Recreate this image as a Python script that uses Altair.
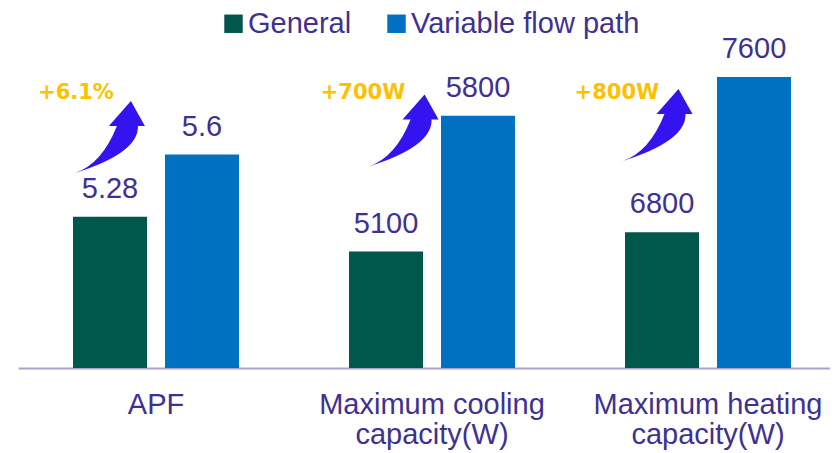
import altair as alt
import pandas as pd

# ---- data ----
categories = ["APF", "Maximum cooling|capacity(W)", "Maximum heating|capacity(W)"]
series = ["General", "Variable flow path"]
general = [5.28, 5100, 6800]
variable = [5.6, 5800, 7600]
general_text = ["5.28", "5100", "6800"]
variable_text = ["5.6", "5800", "7600"]
# each group's bars start from a broken-axis base value
bar_base = [4.5, 4500, 6100]
bar_unit = [1, 1000, 1000]

gains = ["+6.1%", "+700W", "+800W"]
arrow_x = [0.333, 1.397, 2.317]   # in group units
arrow_y = [1.191, 1.224, 1.253]
gain_x = [0.210, 1.250, 2.170]
gain_y = [1.418, 1.418, 1.418]

rows = []
for i, c in enumerate(categories):
    for s, vals, txt in ((series[0], general, general_text), (series[1], variable, variable_text)):
        rows.append({"category": c, "series": s, "value": vals[i], "label": txt[i],
                     "h": (vals[i] - bar_base[i]) / bar_unit[i]})
df = pd.DataFrame(rows)
ann = pd.DataFrame({"gain": gains, "ax": arrow_x, "ay": arrow_y, "gx": gain_x, "gy": gain_y})

W, H = 813, 360
PX_PER_UNIT = 194
x_range = [1, 829]
purple = "#3E3192"
ydom = [0, H / PX_PER_UNIT]
FS = 29

ARROW = ("M-0.972,1 Q0.806,0.444 0.778,-0.306 L0.972,-0.306 L0.583,-1 "
         "L-0.028,-0.306 L0.194,-0.306 Q-0.222,0.75 -0.972,1 Z")

xscale = alt.Scale(domain=categories, range=x_range, paddingInner=0, paddingOuter=0)
xb = alt.X("category:N", sort=categories, scale=xscale,
           axis=alt.Axis(title=None, labelExpr="split(datum.value, '|')", labelFontSize=FS,
                         labelFont="Liberation Sans", labelColor=purple, labelLineHeight=30,
                         labelPadding=22, ticks=False, tickSize=0, domainColor="#A9A1CE",
                         domainWidth=2, labelAngle=0, labelLimit=400, grid=False))
xv = alt.X("category:N", sort=categories, scale=xscale, axis=None)
xo = alt.XOffset("series:N", sort=series,
                 scale=alt.Scale(domain=series, paddingInner=0.1957, paddingOuter=0.598))
yb = alt.Y("h:Q", scale=alt.Scale(domain=ydom, nice=False, zero=False), axis=None)

bars = alt.Chart(df).mark_bar().encode(
    x=xb, xOffset=xo, y=yb,
    color=alt.Color("series:N", sort=series,
                    scale=alt.Scale(domain=series, range=["#00574B", "#0070C0"]),
                    legend=alt.Legend(title=None, orient="none", direction="horizontal",
                                      legendX=202, legendY=1, symbolType="square",
                                      symbolSize=340, symbolStrokeWidth=0, labelFontSize=FS,
                                      labelFont="Liberation Sans", labelColor=purple,
                                      labelOffset=0, columnPadding=30, labelLimit=400)),
)

values = alt.Chart(df).mark_text(baseline="alphabetic", dy=-19, fontSize=FS,
                                 font="Liberation Sans", color=purple).encode(
    x=xv, xOffset=xo, y=yb, text="label:N")

xq = lambda f: alt.X(f, scale=alt.Scale(domain=[0, 3], range=x_range, nice=False, zero=False), axis=None)

arrows = alt.Chart(ann).mark_point(shape=ARROW, size=5184, filled=True, color="#3314F0",
                                   opacity=1, strokeWidth=0).encode(
    x=xq("ax:Q"), y=alt.Y("ay:Q", scale=alt.Scale(domain=ydom, nice=False, zero=False), axis=None))

gain_text = alt.Chart(ann).mark_text(font="DejaVu Sans", fontWeight="bold", fontSize=21,
                                     color="#FFC000", baseline="middle", align="center").encode(
    x=xq("gx:Q"), y=alt.Y("gy:Q", scale=alt.Scale(domain=ydom, nice=False, zero=False), axis=None),
    text="gain:N")

chart = alt.layer(bars, values, arrows, gain_text).resolve_scale(x="independent").properties(
    width=W, height=H, autosize=alt.AutoSizeParams(type="none"),
    padding={"left": 9, "top": 0, "right": 0, "bottom": 85},
).configure_view(stroke=None)

chart.save("out.html", embed_options={"renderer": "svg", "actions": False})
